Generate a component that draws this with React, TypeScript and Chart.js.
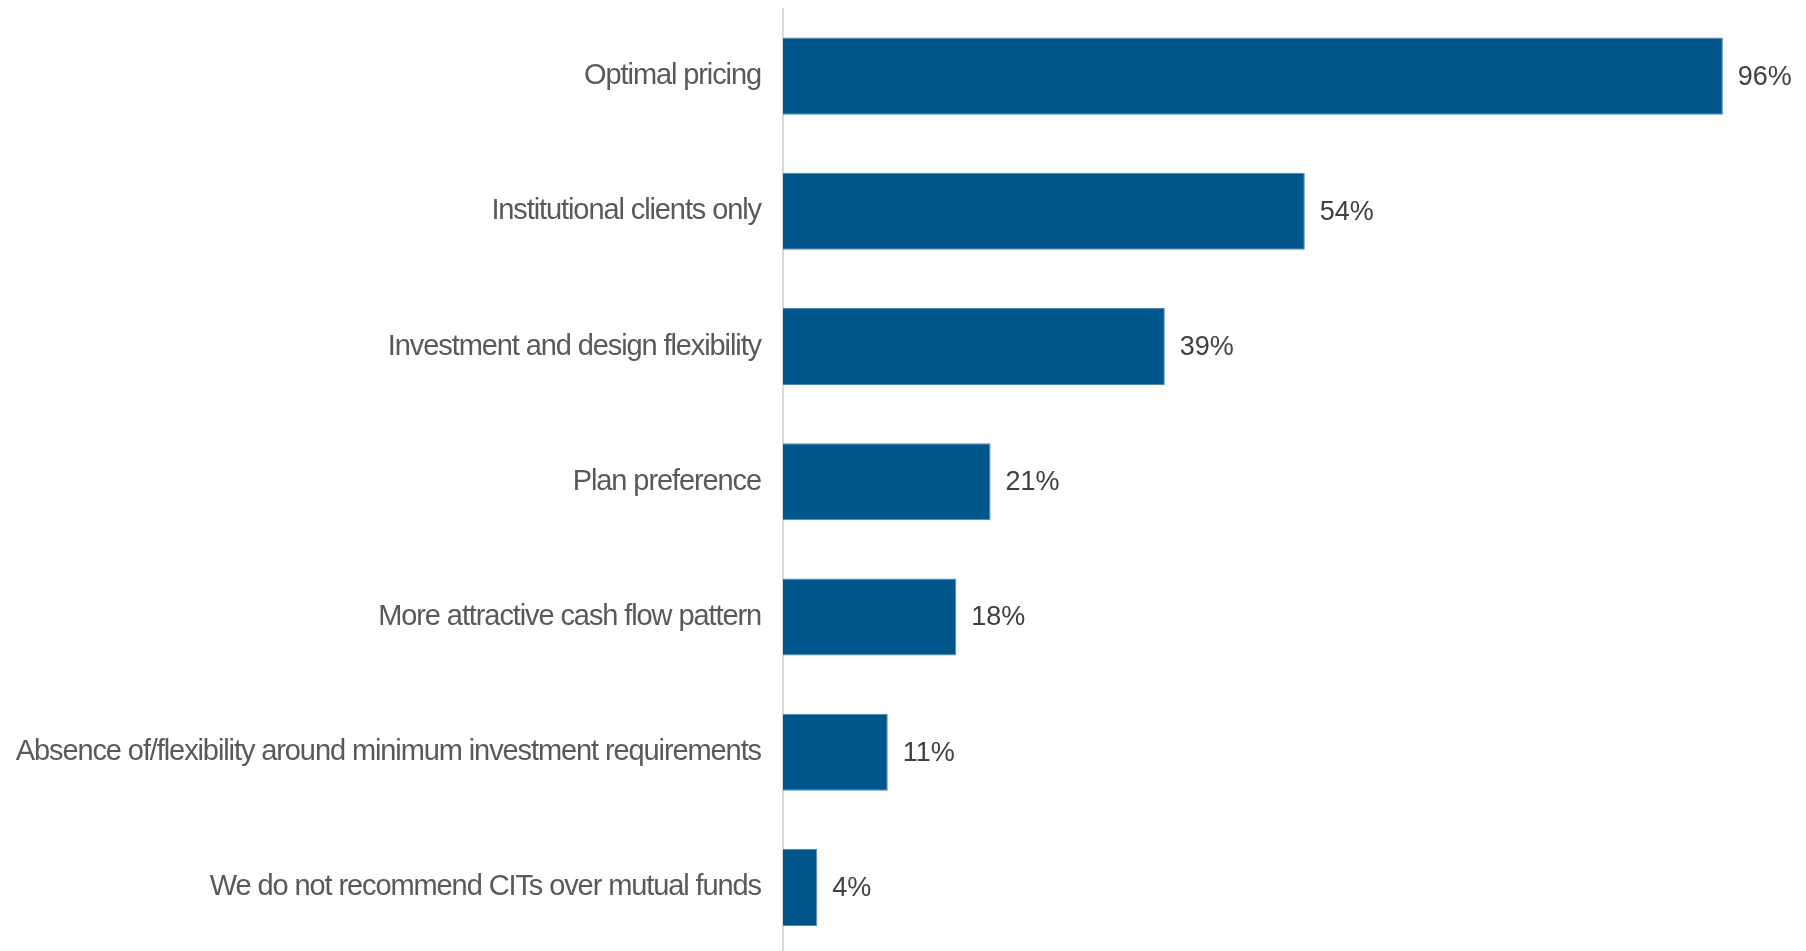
import React, { useEffect, useRef } from "react";
import { Chart, registerables } from "chart.js";

Chart.register(...registerables);

const categories = [
  "Optimal pricing",
  "Institutional clients only",
  "Investment and design flexibility",
  "Plan preference",
  "More attractive cash flow pattern",
  "Absence of/flexibility around minimum investment requirements",
  "We do not recommend CITs over mutual funds",
];
const values = [96, 53.3, 39, 21.2, 17.7, 10.7, 3.5];
const valueLabels = ["96%", "54%", "39%", "21%", "18%", "11%", "4%"];

const FONT = "'Liberation Sans', Arial, sans-serif";

const condensePlugin = {
  id: "condense",
  beforeDraw(chart: any) {
    (chart.ctx as any).letterSpacing = "-1.1px";
  },
};

const valueLabelPlugin = {
  id: "valueLabels",
  afterDatasetsDraw(chart: any) {
    const ctx = chart.ctx;
    const meta = chart.getDatasetMeta(0);
    ctx.save();
    (ctx as any).letterSpacing = "0px";
    ctx.font = `27px ${FONT}`;
    ctx.fillStyle = "#404040";
    ctx.textAlign = "left";
    ctx.textBaseline = "middle";
    meta.data.forEach((bar: any, i: number) => {
      ctx.fillText(valueLabels[i], bar.x + 15, bar.y + 1);
    });
    ctx.restore();
  },
};

export default function App() {
  const ref = useRef<HTMLCanvasElement>(null);
  useEffect(() => {
    if (!ref.current) return;
    const chart = new Chart(ref.current, {
      type: "bar",
      data: {
        labels: categories,
        datasets: [
          {
            data: values,
            backgroundColor: "#00558A",
            borderColor: "#4f86b2",
            borderWidth: 1,
            categoryPercentage: 1,
            barPercentage: 0.57,
          },
        ],
      },
      options: {
        indexAxis: "y",
        animation: false,
        responsive: false,
        maintainAspectRatio: false,
        devicePixelRatio: 1,
        layout: { padding: { top: 8.5, bottom: 5, left: 0, right: 44 } },
        plugins: {
          legend: { display: false },
          tooltip: { enabled: false },
        },
        scales: {
          x: { display: false, min: 0, max: 100 },
          y: {
            afterFit: (scale: any) => {
              scale.width = 783;
              scale.paddingTop = 0;
              scale.paddingBottom = 0;
            },
            grid: { display: false, drawTicks: false },
            border: { display: true, color: "#d9d9d9", width: 2 },
            ticks: {
              padding: 22,
              color: "#595959",
              font: { family: FONT, size: 29 },
            },
          },
        },
      },
      plugins: [condensePlugin, valueLabelPlugin],
    });
    return () => chart.destroy();
  }, []);
  return (
    <div
      style={{
        position: "fixed",
        left: 0,
        top: 0,
        width: 1806,
        height: 951,
        overflow: "hidden",
        background: "#fff",
      }}
    >
      <canvas
        ref={ref}
        width={1806}
        height={960}
        style={{ display: "block", width: 1806, height: 960 }}
      />
    </div>
  );
}
